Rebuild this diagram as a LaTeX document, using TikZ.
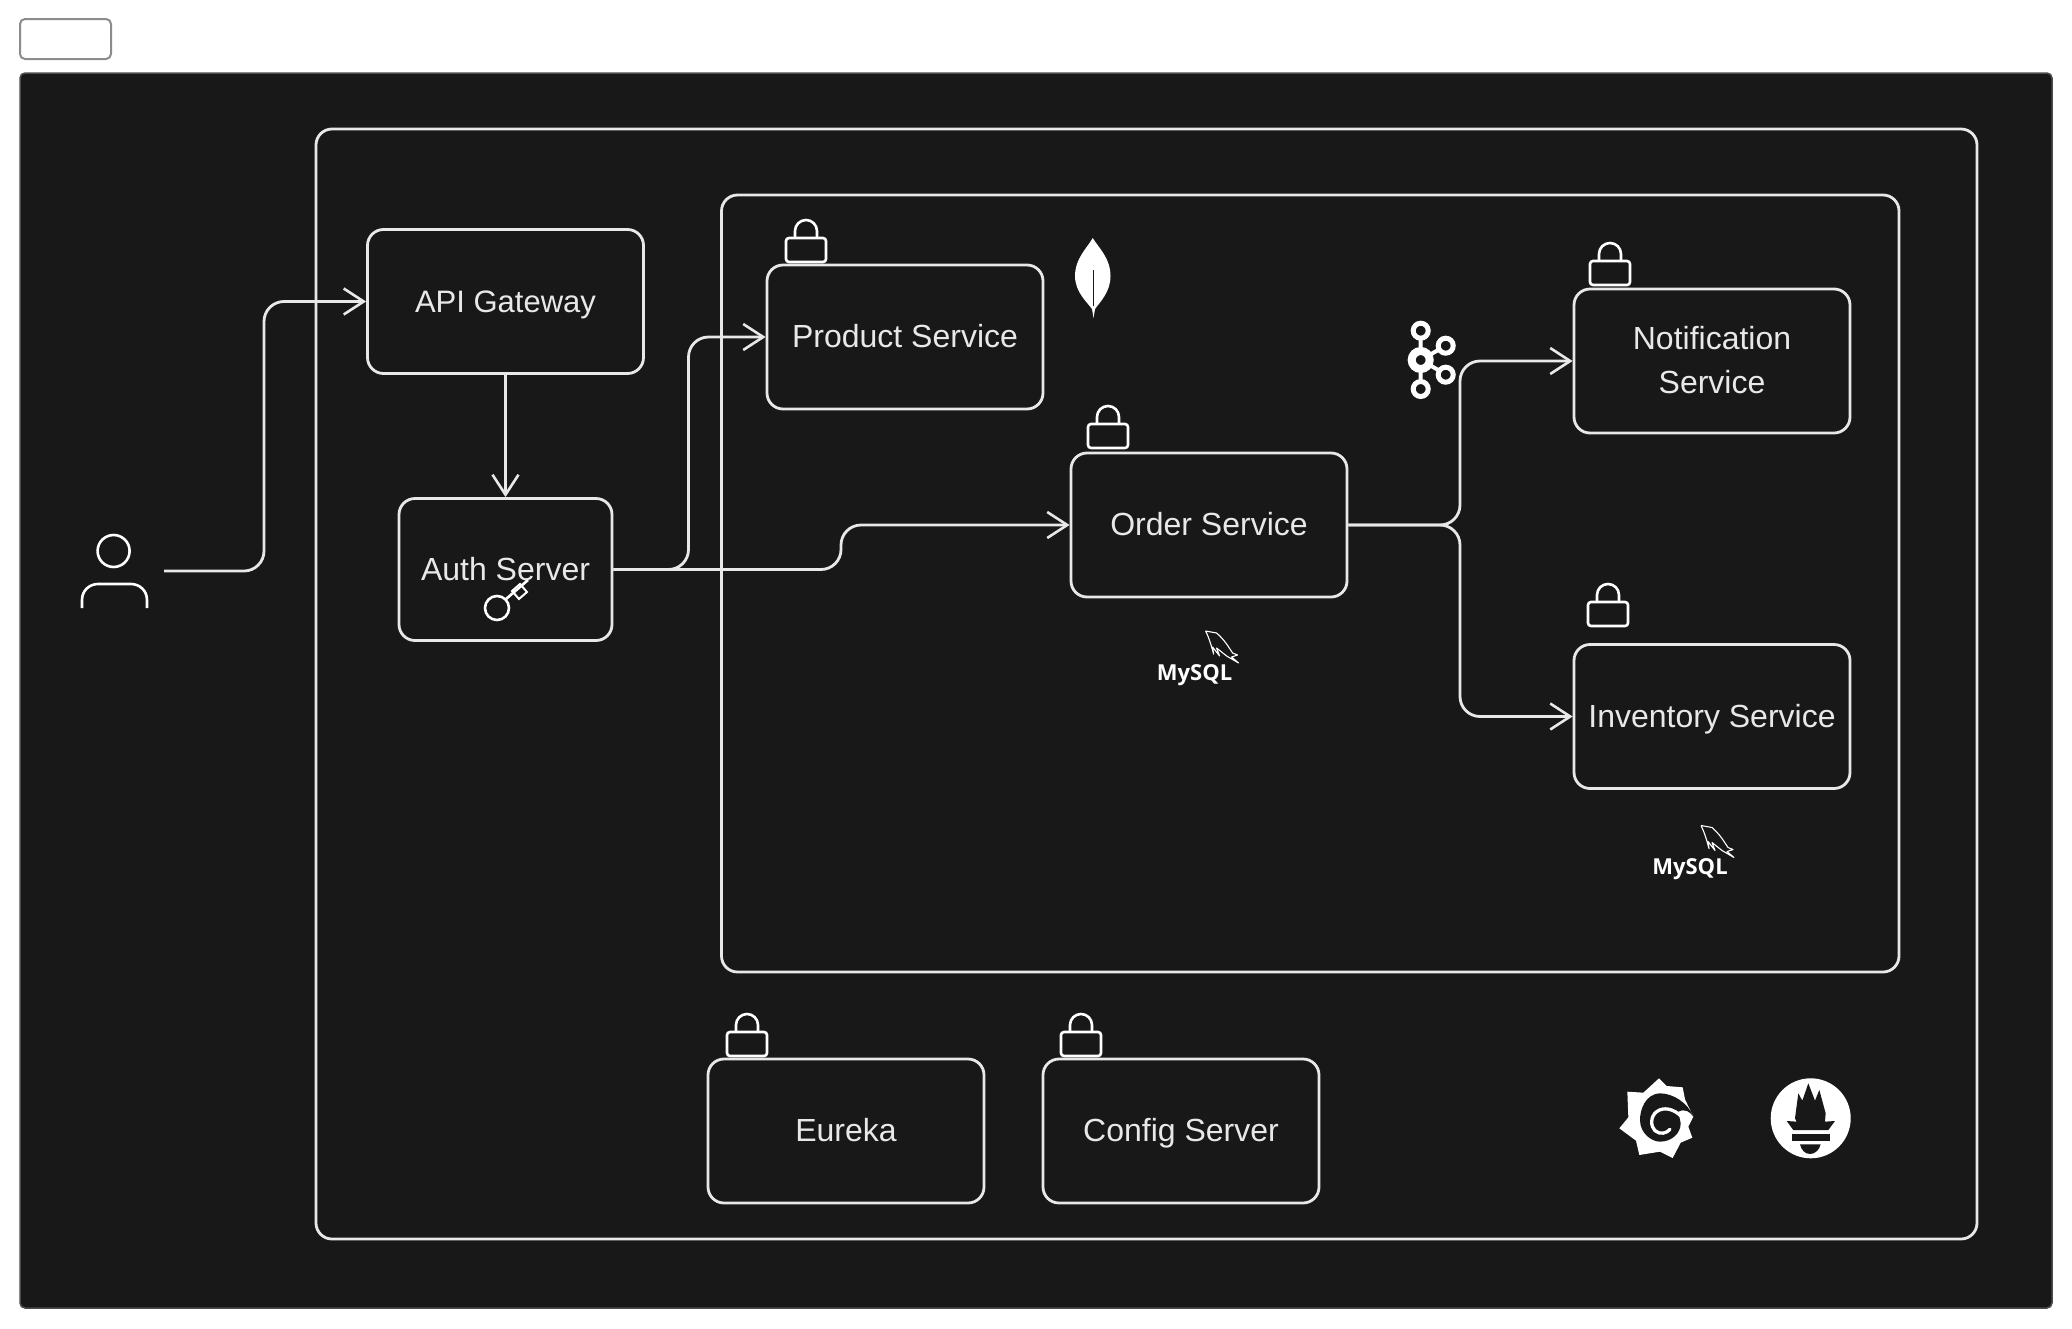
\documentclass[tikz,border=0pt]{standalone}
\usepackage{fontspec}
\setmainfont{Liberation Sans}
\newfontfamily\dbfont{Open Sans}
\usetikzlibrary{arrows.meta}
\definecolor{panelcol}{HTML}{181818}
\definecolor{linecol}{HTML}{E8E8E8}
\tikzset{
	frame/.style={draw=linecol, line width=2.8pt, rounded corners=16pt},
	servicebox/.style={frame, text=linecol, align=center, inner sep=0pt,
		minimum width=276pt, minimum height=144pt, text height=21pt, text depth=0pt,
		font=\fontsize{32}{43.5}\selectfont},
	conn/.style={draw=linecol, line width=2.8pt, rounded corners=20pt,
		-{Straight Barb[length=20pt,width=26pt,line width=2.6pt]}},
	icon/.style={draw=white, line width=2.6pt},
	lockpic/.pic={
		\draw[icon, rounded corners=3pt] (-20,0) rectangle (20,-24);
		\draw[icon] (-11,-24) -- (-11,-31) arc (-180:0:11) -- (11,-24);
	},
	dbpic/.pic={
		\node (-name) [text=white, inner sep=0pt, font=\dbfont\bfseries\fontsize{22}{22}\selectfont] at (0,4) {MySQL};
		\draw[white, line width=1.1pt, line join=round] (11,-40) -- (22,-38) .. controls (30,-31) and (34,-24) .. (38,-18) -- (43,-16) -- (37,-14) -- (44,-8) -- (32,-15) -- (22,-23) -- (25,-15) -- (18,-24) -- (19,-17) .. controls (17,-24) and (15,-32) .. (11,-40);
	},
}
\begin{document}
\begin{tikzpicture}[x=1pt,y=-1pt]
	\useasboundingbox (0,0) rectangle (2072,1328);
	% top button and dark panel
	\draw[draw=black!45, fill=white, line width=2pt, rounded corners=5pt] (20,19) rectangle (111,59);
	\draw[draw=black!70, fill=panelcol, line width=1.5pt, rounded corners=5pt] (20,73) rectangle (2052,1308);
	% frames
	\draw[frame] (316,129) rectangle (1977,1239);
	\draw[frame] (721.5,195) rectangle (1899,972);
	% services
	\node[servicebox, font=\fontsize{31}{43.5}\selectfont] (apigateway) at (505.5,301.5) {API Gateway};
	\node[servicebox, minimum width=213pt, minimum height=142pt] (authserver) at (505.5,569.5) {Auth Server};
	\node[servicebox] (productservice) at (905,337) {Product Service};
	\node[servicebox] (orderservice) at (1209,525) {Order Service};
	\node[servicebox, text height=64.5pt] (notificationservice) at (1712,361) {Notification\\Service};
	\node[servicebox] (inventoryservice) at (1712,716.5) {Inventory Service};
	\node[servicebox] (eureka) at (846,1131) {Eureka};
	\node[servicebox] (configserver) at (1181,1131) {Config Server};
	% bends and free ends
	\coordinate (userout) at (164,571);
	\coordinate (userbend) at (264,0);
	\coordinate (productbend) at (688.5,0);
	\coordinate (orderbend) at (841,0);
	\coordinate (splitbend) at (1460,0);
	% connectors
	\draw[conn] (userout) -- (userout -| userbend) -- (apigateway.west -| userbend) -- (apigateway.west);
	\draw[conn] (apigateway.south) -- (authserver.north);
	\draw[conn] (authserver.east) -- (authserver.east -| productbend) -- (productservice.west -| productbend) -- (productservice.west);
	\draw[conn] (authserver.east) -- (authserver.east -| orderbend) -- (orderservice.west -| orderbend) -- (orderservice.west);
	\draw[conn] (orderservice.east) -- (orderservice.east -| splitbend) -- (notificationservice.west -| splitbend) -- (notificationservice.west);
	\draw[conn] (orderservice.east) -- (orderservice.east -| splitbend) -- (inventoryservice.west -| splitbend) -- (inventoryservice.west);
	% locks
	\foreach \x/\y in {806/262, 1108/448, 1610/285, 1608/626, 747/1056, 1081/1056}
	{
	\pic at (\x,\y) {lockpic};
	}
	% user
	\draw[icon] (113.6,551) circle (16pt);
	\draw[icon] (82,608) -- (82,600) .. controls (82,590) and (90,584) .. (98,584) -- (131,584) .. controls (139,584) and (147,590) .. (147,600) -- (147,608);
	% key
	\draw[icon] (497,608) circle (12pt);
	\draw[icon] (505.5,599.5) -- (528,580);
	\draw[icon, line width=2pt] (512,591) -- (520,584) -- (527,592) -- (519,599) -- cycle;
	% databases
	\pic (orderdb) at (1194.6,671) {dbpic};
	\pic (inventorydb) at (1690,865.5) {dbpic};
	% mongo leaf
	\fill[white] (1092.7,238) .. controls (1098,247) and (1110.5,258) .. (1110.5,276) .. controls (1110.5,292) and (1100,302) .. (1095,309) -- (1093.5,318) -- (1092,309) .. controls (1087,302) and (1075,292) .. (1075,276) .. controls (1075,258) and (1088,247) .. (1092.7,238) -- cycle;
	\draw[panelcol, line width=1pt] (1093.3,270) -- (1093.3,306);
	% kafka
	\draw[white, line width=4pt] (1420.7,338) -- (1420.7,382) (1420.7,360) -- (1440,349) (1420.7,360) -- (1440,371);
	\draw[white, line width=8pt, fill=panelcol] (1420.7,360) circle (9pt);
	\draw[white, line width=5pt, fill=panelcol] (1420.7,330.7) circle (7.5pt);
	\draw[white, line width=5pt, fill=panelcol] (1420.7,389) circle (7.5pt);
	\draw[white, line width=5pt, fill=panelcol] (1445.7,345.7) circle (7.5pt);
	\draw[white, line width=5pt, fill=panelcol] (1445.7,374.7) circle (7.5pt);
	% grafana
	\begin{scope}[shift={(1610,1070)},x=.3333pt,y=-.3333pt]
	\fill[white] (147,25) -- (170,48) -- (218,52) -- (225,88) -- (250,140) -- (235,170) -- (247,203) -- (212,218) -- (188,264) -- (150,245) -- (88,255) -- (78,212) -- (28,175) -- (55,142) -- (52,65) -- (100,68) -- cycle;
	\fill[panelcol] (250,140) .. controls (235,100) and (190,70) .. (150,70) .. controls (105,72) and (90,120) .. (90,150) .. controls (90,190) and (125,215) .. (150,215) .. controls (185,215) and (212,190) .. (212,160) -- (205,125) .. controls (225,115) and (240,125) .. (250,140) -- cycle;
	\draw[white, line width=3.3pt, line cap=round] (215,140) .. controls (190,115) and (160,110) .. (140,125) .. controls (120,140) and (122,170) .. (135,182) .. controls (150,195) and (170,190) .. (180,178);
	\end{scope}
	% prometheus
	\fill[white] (1810.7,1118.3) circle (40pt);
	\begin{scope}[shift={(1580,1050)},x=.3333pt,y=-.3333pt]
	\fill[panelcol] (645,205) -- (655,130) -- (667,152) -- (685,100) -- (705,152) -- (718,120) -- (737,190) -- (735,215) -- (765,213) -- (745,240) -- (640,240) -- (620,213) -- (650,215) -- cycle;
	\fill[panelcol] (636,252) rectangle (749,272);
	\fill[panelcol] (660,283) -- (722,283) .. controls (718,300) and (705,312) .. (690,312) .. controls (675,312) and (664,300) .. (660,283) -- cycle;
	\end{scope}
\end{tikzpicture}
\end{document}
